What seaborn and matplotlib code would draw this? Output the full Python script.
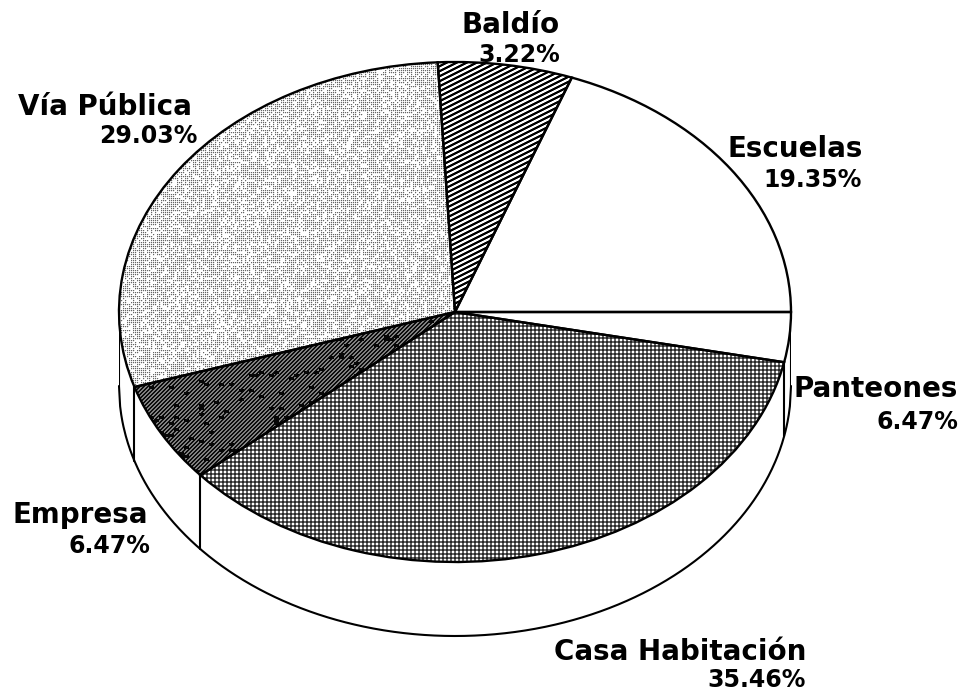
import numpy as np
import matplotlib
matplotlib.use("Agg")
import matplotlib.pyplot as plt
import seaborn as sns

# slice sizes as drawn in the picture (printed labels differ for Baldio/Panteones)
categories = ["Escuelas", "Baldío", "Vía Pública", "Empresa", "Casa Habitación", "Panteones"]
drawn_shares = [19.35, 6.47, 29.03, 6.47, 35.46, 3.22]
printed_labels = ["19.35%", "3.22%", "29.03%", "6.47%", "35.46%", "6.47%"]

sns.set_theme(style="white")
plt.rcParams["font.family"] = ["DejaVu Sans"]

W, H = 963, 691
fig = plt.figure(figsize=(W / 100, H / 100), dpi=100, facecolor="white")

# top ellipse spans x 119-791, y 62-562 in pixels
ax = fig.add_axes([119 / W, (H - 562) / H, 672 / W, 500 / H])
depth = 74 / 250

# rim: lower ellipse and the two side edges
rim_x = np.linspace(-1, 1, 600)
rim_y = -np.sqrt(1 - rim_x ** 2)
ax.plot(rim_x, rim_y - depth, color="black", lw=1.5, zorder=3, clip_on=False)
ax.vlines([-1, 1], -depth, 0, color="black", lw=1.5, zorder=3)


def speckle(xs, ys):
    # repeatable grain for the scanned halftones
    v = np.sin(xs * 12.9898 + ys * 78.233) * 43758.5453
    return v - np.floor(v)


# halftone textures from the scan, one pixel per texture cell
yy, xx = np.mgrid[0:500, 0:672]
stripes = np.clip(0.45 + 1.3 * np.sin(2 * np.pi * (yy + 0.5 * xx) / 5), 0, 1)

tile = np.array([0.15, 1, 1, 0.15])
grid = np.sqrt(tile[xx % 4] * tile[yy % 4])

lattice = ((xx + yy) % 4 == 0) & ((xx - yy) % 4 == 0)
lattice = lattice | (((xx + yy) % 4 == 2) & ((xx - yy) % 4 == 2))
lattice = lattice & (speckle(xx, yy) > 0.3)
shade = 0.6 * lattice + 0.12 * (np.roll(lattice, 1, axis=0) + np.roll(lattice, 1, axis=1))
stipple = 1 - np.clip(shade, 0, 1)

diag_tile = np.array([0.05, 0.05, 0.5, 0.5])
dark = diag_tile[(xx + yy) % 4]
dark = np.where(speckle(xx // 5, yy // 3) > 0.93, 0.03, dark)

textures = [None, stripes, stipple, dark, grid, None]

fill, _ = ax.pie(drawn_shares, radius=1, startangle=0, colors=["white"],
                 wedgeprops={"linewidth": 0, "zorder": 4})
for w, tex in zip(fill, textures):
    if tex is None:
        continue
    im = ax.imshow(tex, extent=(-1, 1, -1, 1), cmap="gray", vmin=0, vmax=1,
                   interpolation="nearest", aspect="auto", zorder=4.5)
    im.set_clip_path(w)

lines, _ = ax.pie(drawn_shares, radius=1, startangle=0,
                  wedgeprops={"fill": False, "edgecolor": "black", "linewidth": 1.7, "zorder": 5})

# wall edges below the front slice boundaries
ends = np.cumsum(drawn_shares) / 100 * 2 * np.pi
for a in ends:
    if np.sin(a) < -0.01:
        ax.plot([np.cos(a)] * 2, [np.sin(a), np.sin(a) - depth], color="black", lw=1.5, zorder=3)

ax.set_aspect("auto")
ax.set_xlim(-1, 1)
ax.set_ylim(-1, 1)
ax.axis("off")

# label anchors: right edge and baseline, in pixels
name_pos = [(863, 157), (560, 33), (192, 115), (148, 523), (806, 660), (958, 397)]
pct_pos = [(862, 187), (560, 62), (197, 143), (150, 553), (806, 687), (958, 429)]
for name, pct, np_, pp in zip(categories, printed_labels, name_pos, pct_pos):
    fig.text(np_[0] / W, 1 - np_[1] / H, name, ha="right", va="baseline",
             fontsize=20, fontweight="bold", color="black")
    fig.text(pp[0] / W, 1 - pp[1] / H, pct, ha="right", va="baseline",
             fontsize=17, fontweight="bold", color="black")

fig.savefig("out.png", dpi=100)
